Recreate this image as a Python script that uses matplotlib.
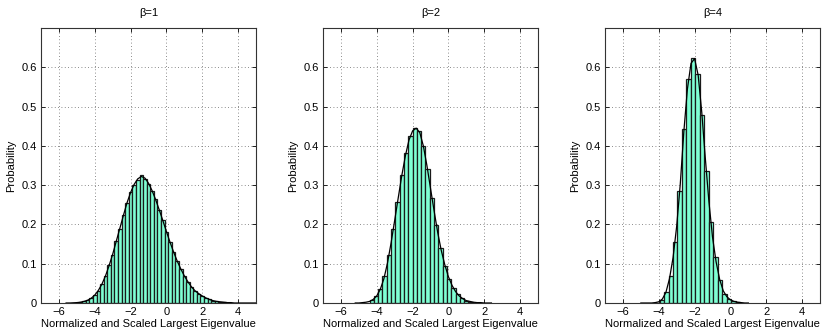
import numpy as np
import matplotlib
matplotlib.use("Agg")
import matplotlib.pyplot as plt

plt.rcParams['font.family'] = ['Liberation Sans', 'DejaVu Sans']

betas = [1, 2, 4]

# histogram bars: first bin centre, bin width, heights
hist1_start, hist1_width = -4.8, 0.2
hist1 = [0.002, 0.004, 0.007, 0.012, 0.021, 0.031, 0.049, 0.068, 0.096, 0.123,
         0.158, 0.188, 0.224, 0.254, 0.282, 0.300, 0.314, 0.327, 0.316, 0.304,
         0.284, 0.264, 0.236, 0.211, 0.181, 0.156, 0.129, 0.108, 0.086, 0.070,
         0.053, 0.042, 0.031, 0.024, 0.017, 0.013, 0.009, 0.006, 0.004, 0.003,
         0.002, 0.001]

hist2_start, hist2_width = -4.28, 0.24
hist2 = [0.007, 0.017, 0.036, 0.070, 0.122, 0.188, 0.258, 0.327, 0.383, 0.424,
         0.446, 0.437, 0.400, 0.340, 0.268, 0.198, 0.140, 0.095, 0.062, 0.038,
         0.022, 0.012, 0.006, 0.003, 0.001]

hist4_start, hist4_width = -4.08, 0.25
hist4 = [0.001, 0.007, 0.029, 0.070, 0.156, 0.284, 0.444, 0.571, 0.624, 0.582,
         0.479, 0.335, 0.207, 0.117, 0.058, 0.024, 0.011, 0.005, 0.002]

# density curves, sampled every 0.2 from the given start
curve1_start = -5.6
curve1 = [0.000, 0.000, 0.0005, 0.001, 0.002, 0.004, 0.007, 0.012, 0.020, 0.032,
          0.048, 0.069, 0.095, 0.124, 0.157, 0.190, 0.223, 0.255, 0.281, 0.302,
          0.316, 0.322, 0.318, 0.305, 0.286, 0.263, 0.237, 0.210,
          0.182, 0.155, 0.130, 0.107, 0.087, 0.069, 0.054, 0.041, 0.031, 0.024,
          0.018, 0.013, 0.009, 0.006, 0.004, 0.003, 0.002, 0.001, 0.001, 0.000,
          0.000, 0.000, 0.000, 0.000, 0.000, 0.000]

curve2_start = -5.2
curve2 = [0.000, 0.000, 0.001, 0.002, 0.004, 0.009, 0.018, 0.035, 0.062, 0.102,
          0.153, 0.210, 0.268, 0.325, 0.375, 0.415, 0.438, 0.445, 0.434, 0.400,
          0.350, 0.292, 0.235, 0.180, 0.134, 0.097,
          0.067, 0.045, 0.029, 0.018, 0.011, 0.006, 0.004, 0.002, 0.001, 0.001,
          0.000, 0.000, 0.000]

curve4_start = -5.0
curve4 = [0.000, 0.000, 0.000, 0.000, 0.001, 0.003, 0.010, 0.027, 0.062, 0.116,
          0.195, 0.302, 0.436, 0.545, 0.610, 0.622, 0.580, 0.486, 0.368, 0.258,
          0.168, 0.105, 0.060, 0.031, 0.016,
          0.008, 0.004, 0.002, 0.001, 0.000, 0.000]
curve_step = 0.2

panels = [
    (hist1_start, hist1_width, hist1, curve1_start, curve1),
    (hist2_start, hist2_width, hist2, curve2_start, curve2),
    (hist4_start, hist4_width, hist4, curve4_start, curve4),
]

fig = plt.figure(figsize=(8.3, 3.36), dpi=100)
lefts = [41, 323, 605]

for i, (beta, (hs, hw, h, cs, c)) in enumerate(zip(betas, panels)):
    ax = fig.add_axes([lefts[i] / 830, 33 / 336, 215 / 830, 275 / 336])
    centers = hs + hw * np.arange(len(h))
    ax.bar(centers, h, width=hw, color='#7fffd4', edgecolor='#1a1a1a',
           linewidth=0.9, zorder=2)
    xs = cs + curve_step * np.arange(len(c))
    ax.plot(xs, c, color='black', linewidth=0.9, zorder=3)

    ax.set_xlim(-7, 5)
    ax.set_ylim(0, 0.7)
    ax.set_xticks([-6, -4, -2, 0, 2, 4])
    ax.set_yticks([0, 0.1, 0.2, 0.3, 0.4, 0.5, 0.6])
    ax.set_yticklabels(['0', '0.1', '0.2', '0.3', '0.4', '0.5', '0.6'])
    ax.grid(True, linestyle=(0, (1, 3)), color='#666666', linewidth=0.6, zorder=0)
    ax.set_axisbelow(True)
    ax.tick_params(direction='in', length=3, width=0.6, labelsize=8,
                   top=True, right=True, pad=3)
    for s in ax.spines.values():
        s.set_linewidth(0.8)
        s.set_color('#333333')
    ax.set_title('β=%d' % beta, fontsize=8, pad=9)
    ax.set_xlabel('Normalized and Scaled Largest Eigenvalue', fontsize=8, labelpad=1)
    ax.set_ylabel('Probability', fontsize=8, labelpad=4)

fig.savefig('out.png', dpi=100)
